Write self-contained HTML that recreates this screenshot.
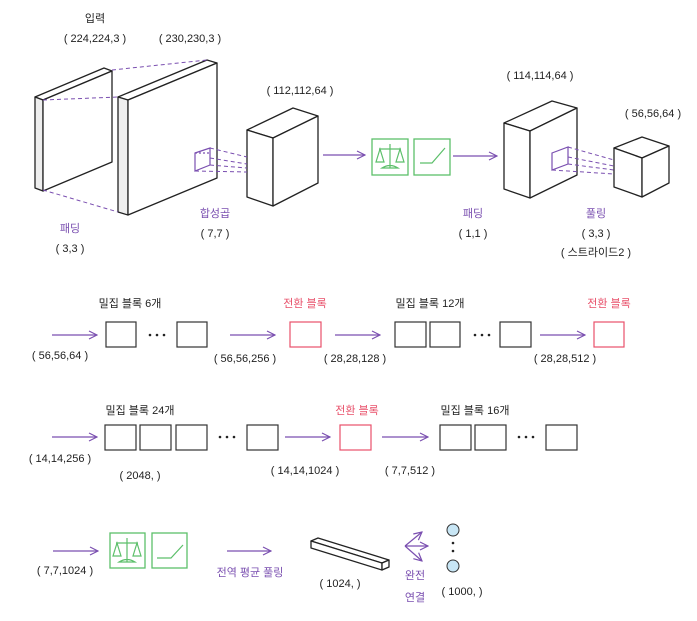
<!DOCTYPE html>
<html><head><meta charset="utf-8"><style>
body{margin:0;background:#fff}
svg text{font-family:"Liberation Sans","Noto Sans CJK KR",sans-serif;font-size:11px;fill:#222;text-anchor:middle}
.p{fill:#7a4fb0}.r{fill:#e8506a}
</style></head><body>
<svg width="697" height="616" viewBox="0 0 697 616" xmlns="http://www.w3.org/2000/svg">
<defs><marker id="a" markerWidth="10" markerHeight="10" refX="9" refY="5" orient="auto" markerUnits="userSpaceOnUse"><path d="M1,1 L9,5 L1,9" fill="none" stroke="#7a4fb0" stroke-width="1.2"/></marker></defs>
<g stroke="#222" stroke-width="1.3" fill="#fff" stroke-linejoin="round">
<polygon points="35,97 104,68 112,71 43,100"/><polygon points="35,97 43,100 43,191 35,188" fill="#eee"/><polygon points="43,100 112,71 112,162 43,191"/>
<polygon points="118,97 207,60 217,63 128,100"/><polygon points="118,97 128,100 128,215 118,212" fill="#eee"/><polygon points="128,100 217,63 217,178 128,215"/>
<polygon points="247,130 293,108 318,116 273,138"/><polygon points="247,130 273,138 273,206 247,197"/><polygon points="273,138 318,116 318,183 273,206"/>
<polygon points="504,123 552,101 577,108 530,131"/><polygon points="504,123 530,131 530,198 504,189"/><polygon points="530,131 577,108 577,175 530,198"/>
<polygon points="614,148 642,137 669,146 642,158"/><polygon points="614,148 642,158 642,197 614,187"/><polygon points="642,158 669,146 669,183 642,197"/>
<polygon points="311,541 318,538 389,560 382,563"/><polygon points="311,541 382,563 382,570 311,548"/><polygon points="382,563 389,560 389,567 382,570"/>
</g>
<g stroke="#7a4fb0" stroke-width="1" fill="none" stroke-dasharray="4,3">
<line x1="112" y1="70" x2="207" y2="60"/><line x1="43" y1="100" x2="118" y2="97"/><line x1="43" y1="190" x2="118" y2="212"/>
<line x1="210" y1="148" x2="247" y2="157"/><line x1="210" y1="158" x2="247" y2="164"/><line x1="210" y1="165" x2="247" y2="168"/><line x1="195" y1="171" x2="247" y2="172"/>
<line x1="568" y1="147" x2="614" y2="160"/><line x1="568" y1="157" x2="614" y2="166"/><line x1="568" y1="164" x2="614" y2="170"/><line x1="552" y1="170" x2="614" y2="174"/>
</g>
<g stroke="#7a4fb0" stroke-width="1.2" fill="none">
<polygon points="195,153 210,148 210,165 195,171"/><line x1="195" y1="153" x2="210" y2="153" stroke-dasharray="2,2"/>
<polygon points="552,153 568,147 568,164 552,170"/>
</g>
<g stroke="#7a4fb0" stroke-width="1.2" marker-end="url(#a)">
<line x1="323" y1="155" x2="365" y2="155"/><line x1="453" y1="156" x2="497" y2="156"/>
<line x1="52" y1="335" x2="97" y2="335"/><line x1="230" y1="335" x2="275" y2="335"/><line x1="335" y1="335" x2="380" y2="335"/><line x1="540" y1="335" x2="585" y2="335"/>
<line x1="52" y1="437" x2="97" y2="437"/><line x1="285" y1="437" x2="330" y2="437"/><line x1="382" y1="437" x2="428" y2="437"/>
<line x1="53" y1="551" x2="98" y2="551"/><line x1="227" y1="551" x2="271" y2="551"/>
<line x1="405" y1="546" x2="422" y2="532"/><line x1="405" y1="546" x2="428" y2="546"/><line x1="405" y1="546" x2="422" y2="561"/>
</g>
<g stroke="#5cbf6a" stroke-width="1.3" fill="#fff">
<rect x="372" y="139" width="36" height="36"/><rect x="414" y="139" width="36" height="36"/>
<rect x="110" y="533" width="35" height="35"/><rect x="152" y="533" width="35" height="35"/>
</g>
<g stroke="#5cbf6a" stroke-width="1.2" fill="none">
<path d="M390,144 V168 M379,149 H401 M380,149 L376,162 H384 Z M400,149 L396,162 H404 Z M382,168 Q390,163 398,168 Z"/>
<path d="M420,163 H432 L445,148"/>
<path d="M127,538 V562 M116,543 H138 M117,543 L113,556 H121 Z M137,543 L133,556 H141 Z M119,562 Q127,557 135,562 Z"/>
<path d="M157,558 H171 L183,545"/>
</g>
<g stroke="#333" stroke-width="1.2" fill="#fff">
<rect x="106" y="322" width="30" height="25"/><rect x="177" y="322" width="30" height="25"/>
<rect x="395" y="322" width="31" height="25"/><rect x="430" y="322" width="30" height="25"/><rect x="500" y="322" width="31" height="25"/>
<rect x="105" y="425" width="31" height="25"/><rect x="140" y="425" width="31" height="25"/><rect x="176" y="425" width="31" height="25"/><rect x="247" y="425" width="31" height="25"/>
<rect x="440" y="425" width="31" height="25"/><rect x="475" y="425" width="31" height="25"/><rect x="546" y="425" width="31" height="25"/>
</g>
<g stroke="#e8506a" stroke-width="1.2" fill="#fff"><rect x="290" y="322" width="31" height="25"/><rect x="594" y="322" width="30" height="25"/><rect x="340" y="425" width="31" height="25"/></g>
<g fill="#222"><circle cx="150" cy="335" r="1.3"/><circle cx="157" cy="335" r="1.3"/><circle cx="164" cy="335" r="1.3"/>
<circle cx="475" cy="335" r="1.3"/><circle cx="482" cy="335" r="1.3"/><circle cx="489" cy="335" r="1.3"/>
<circle cx="220" cy="437" r="1.3"/><circle cx="227" cy="437" r="1.3"/><circle cx="234" cy="437" r="1.3"/>
<circle cx="519" cy="437" r="1.3"/><circle cx="526" cy="437" r="1.3"/><circle cx="533" cy="437" r="1.3"/>
<circle cx="453" cy="543" r="1.3"/><circle cx="453" cy="551" r="1.3"/></g>
<circle cx="453" cy="530" r="6" fill="#c8e6f5" stroke="#333"/><circle cx="453" cy="566" r="6" fill="#c8e6f5" stroke="#333"/>
<text x="95" y="22">입력</text><text x="95" y="42">( 224,224,3 )</text><text x="190" y="42">( 230,230,3 )</text>
<text x="70" y="232" class="p">패딩</text><text x="70" y="252">( 3,3 )</text>
<text x="215" y="217" class="p">합성곱</text><text x="215" y="237">( 7,7 )</text>
<text x="300" y="94">( 112,112,64 )</text><text x="540" y="79">( 114,114,64 )</text><text x="653" y="117">( 56,56,64 )</text>
<text x="473" y="217" class="p">패딩</text><text x="473" y="237">( 1,1 )</text>
<text x="596" y="217" class="p">풀링</text><text x="596" y="237">( 3,3 )</text><text x="596" y="256">( 스트라이드2 )</text>
<text x="130" y="307">밀집 블록 6개</text><text x="305" y="307" class="r">전환 블록</text><text x="430" y="307">밀집 블록 12개</text><text x="609" y="307" class="r">전환 블록</text>
<text x="60" y="359">( 56,56,64 )</text><text x="245" y="362">( 56,56,256 )</text><text x="355" y="362">( 28,28,128 )</text><text x="565" y="362">( 28,28,512 )</text>
<text x="140" y="414">밀집 블록 24개</text><text x="357" y="414" class="r">전환 블록</text><text x="475" y="414">밀집 블록 16개</text>
<text x="60" y="462">( 14,14,256 )</text><text x="140" y="479">( 2048, )</text><text x="305" y="474">( 14,14,1024 )</text><text x="410" y="474">( 7,7,512 )</text>
<text x="65" y="574">( 7,7,1024 )</text><text x="250" y="576" class="p">전역 평균 풀링</text><text x="340" y="587">( 1024, )</text>
<text x="415" y="579" class="p">완전</text><text x="415" y="601" class="p">연결</text><text x="462" y="595">( 1000, )</text>
</svg>
</body></html>
